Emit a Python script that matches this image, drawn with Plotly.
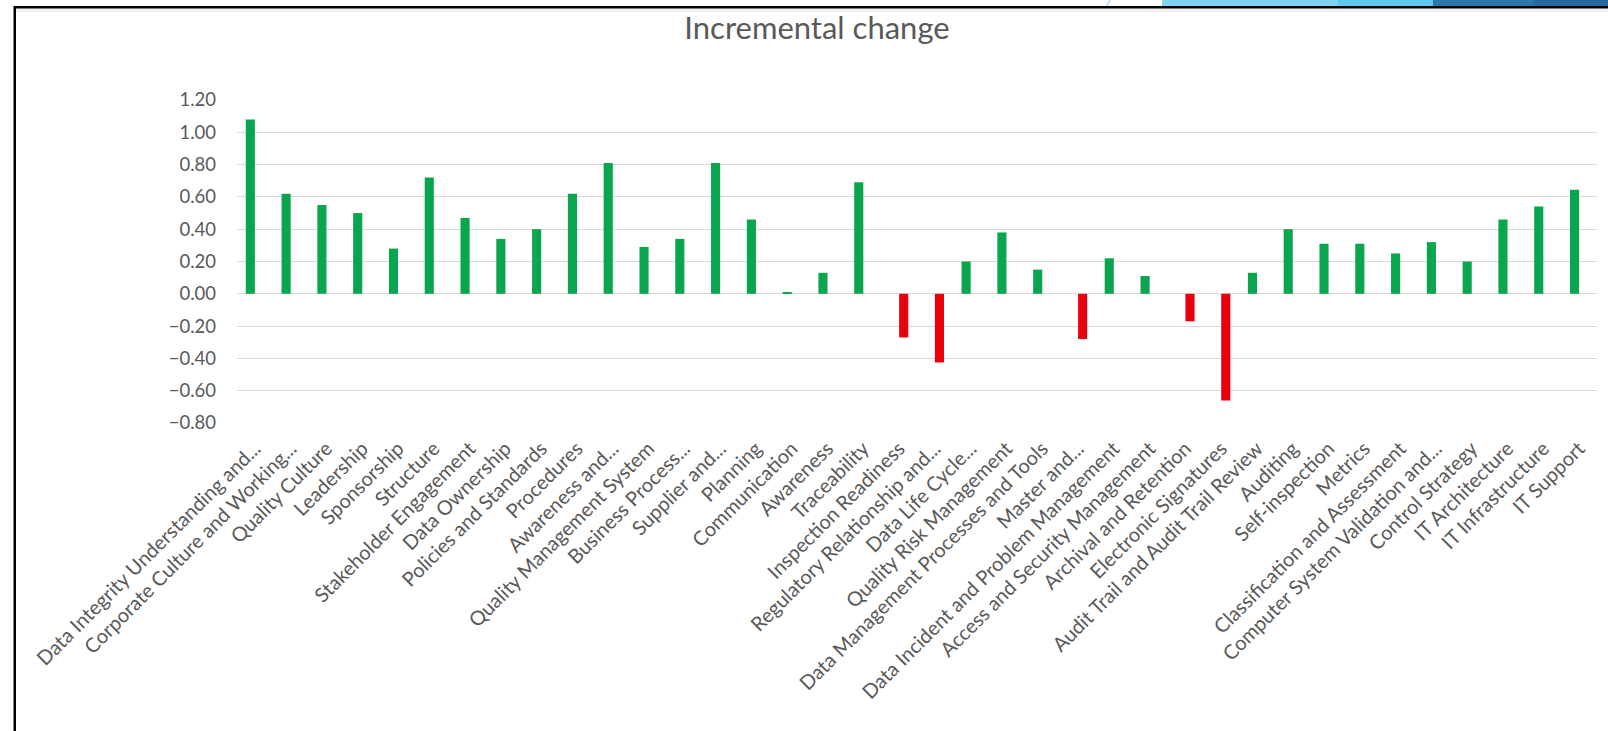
import plotly.graph_objects as go

W, H = 1608, 731

categories = [
    "Data Integrity Understanding and...", "Corporate Culture and Working...", "Quality Culture",
    "Leadership", "Sponsorship", "Structure", "Stakeholder Engagement", "Data Ownership",
    "Policies and Standards", "Procedures", "Awareness and...", "Quality Management System",
    "Business Process...", "Supplier and...", "Planning", "Communication", "Awareness",
    "Traceability", "Inspection Readiness", "Regulatory Relationship and...", "Data Life Cycle...",
    "Quality Risk Management", "Data Management Processes and Tools", "Master and...",
    "Data Incident and Problem Management", "Access and Security Management",
    "Archival and Retention", "Electronic Signatures", "Audit Trail and Audit Trail Review",
    "Auditing", "Self-inspection", "Metrics", "Classification and Assessment",
    "Computer System Validation and...", "Control Strategy", "IT Architecture",
    "IT Infrastructure", "IT Support",
]

increase = [1.08, 0.62, 0.55, 0.50, 0.28, 0.72, 0.47, 0.34, 0.40, 0.62, 0.81, 0.29,
            0.34, 0.81, 0.46, 0.01, 0.13, 0.69, None, None, 0.20, 0.38, 0.15, None,
            0.22, 0.11, None, None, 0.13, 0.40, 0.31, 0.31, 0.25, 0.32, 0.20, 0.46,
            0.54, 0.645]

decrease = [None, None, None, None, None, None, None, None, None, None, None, None,
            None, None, None, None, None, None, -0.27, -0.425, None, None, None, -0.28,
            None, None, -0.17, -0.66, None, None, None, None, None, None, None, None,
            None, None]

y_ticks = [-0.8, -0.6, -0.4, -0.2, 0.0, 0.2, 0.4, 0.6, 0.8, 1.0, 1.2]

FONT = "Lato"
GRAY = "#595959"

fig = go.Figure()
fig.add_trace(go.Bar(x=categories, y=increase, marker=dict(color="#0AA64E", line=dict(width=0)),
                     name="Increase", showlegend=False))
fig.add_trace(go.Bar(x=categories, y=decrease, marker=dict(color="#E8000E", line=dict(width=0)),
                     name="Decrease", showlegend=False))

def px_x(p):
    return p / W

def px_y(p):
    return 1 - p / H

shapes = []
# frame lines
shapes.append(dict(type="rect", xref="paper", yref="paper", x0=px_x(14), x1=1.0,
                   y0=px_y(8.5), y1=px_y(6), fillcolor="#000000", line=dict(width=0), layer="above"))
shapes.append(dict(type="rect", xref="paper", yref="paper", x0=px_x(13.5), x1=px_x(16),
                   y0=0, y1=px_y(6), fillcolor="#000000", line=dict(width=0), layer="above"))
# faint shadow under top line
shapes.append(dict(type="rect", xref="paper", yref="paper", x0=px_x(16), x1=1.0,
                   y0=px_y(12), y1=px_y(8.5), fillcolor="#F1F1F1", line=dict(width=0), layer="below"))
# decorative bands at top right
bands = [(1162, 1338, "#7DD3F0"), (1338, 1433, "#5FC9EE"), (1433, 1534, "#2E76A7"), (1534, 1608, "#27699C")]
for a, b, c in bands:
    shapes.append(dict(type="rect", xref="paper", yref="paper", x0=px_x(a), x1=px_x(b),
                       y0=px_y(6), y1=1.0, fillcolor=c, line=dict(width=0), layer="above"))
shapes.append(dict(type="line", xref="paper", yref="paper", x0=px_x(1107), x1=px_x(1110),
                   y0=px_y(6), y1=1.0, line=dict(color="#9EDDF4", width=1.5), layer="above"))

fig.update_layout(
    width=W, height=H,
    margin=dict(l=0, r=0, t=0, b=0),
    paper_bgcolor="#FFFFFF", plot_bgcolor="#FFFFFF",
    barmode="group", bargap=0.49, bargroupgap=0.0,
    font=dict(family=FONT, color=GRAY),
    title=dict(text="Incremental change", x=817 / W, xanchor="center", y=px_y(28), yanchor="middle",
               xref="paper", yref="paper", font=dict(family=FONT, size=31, color=GRAY)),
    xaxis=dict(domain=[237 / W, 1597 / W], range=[-0.5, len(categories) - 0.5],
               tickangle=-45, tickfont=dict(family=FONT, size=20, color=GRAY),
               showgrid=False, showline=False, zeroline=False, ticks="",
               automargin=False, ticklabelstandoff=9, fixedrange=True),
    yaxis=dict(domain=[px_y(423), px_y(100)], range=[-0.8, 1.2], tickvals=y_ticks,
               tickformat=".2f", tickfont=dict(family=FONT, size=18.5, color=GRAY),
               showgrid=True, gridcolor="#D9D9D9", gridwidth=1,
               zeroline=True, zerolinecolor="#D9D9D9", zerolinewidth=1,
               showline=False, ticks="", automargin=False, ticklabelstandoff=20, fixedrange=True),
    shapes=shapes,
)

fig.write_html("out.html")
